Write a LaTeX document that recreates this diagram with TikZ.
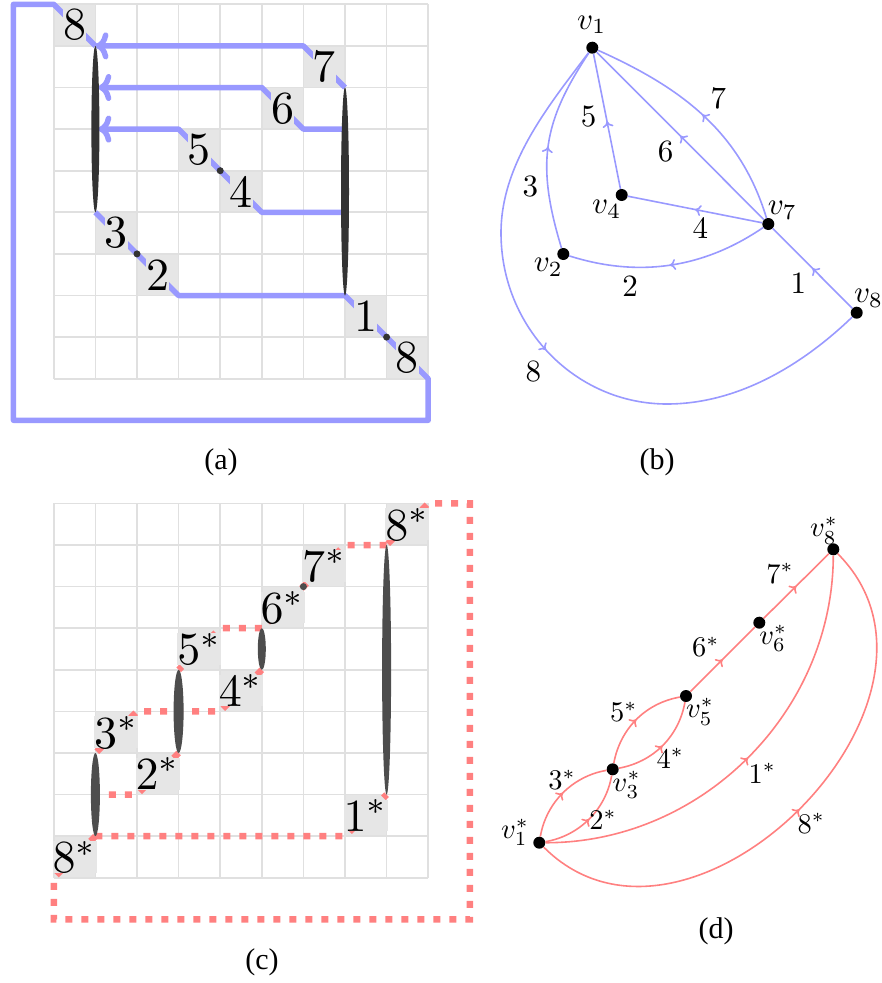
\documentclass[tikz,border=0pt]{standalone}
\usepackage{graphicx}
\usepackage{fontspec}
\newfontfamily\capfont{Liberation Serif}
\usetikzlibrary{arrows.meta,decorations.markings}
\definecolor{bl}{RGB}{153,153,255}
\definecolor{rd}{RGB}{255,128,128}
\definecolor{cellc}{RGB}{230,230,230}
\definecolor{gridc}{RGB}{224,224,224}
\definecolor{ella}{RGB}{51,51,51}
\definecolor{ellc}{RGB}{77,77,77}
\newcommand{\labA}[1]{\scalebox{4.6}{#1}}
\newcommand{\labB}[1]{\scalebox{3.1}{#1}}
\newcommand{\labD}[1]{\scalebox{2.85}{#1}}
\tikzset{
  gridl/.style={draw=gridc, line width=1.7pt},
  bpath/.style={draw=bl, line width=5.5pt, line join=round},
  barrow/.style={bpath, -{To[length=13pt,width=27pt]}},
  rpath/.style={draw=rd, line width=6.5pt, dash pattern=on 7pt off 9pt},
  biglab/.style={fill=cellc, inner sep=0pt},
  vtx/.style={circle, fill=black, inner sep=0pt, minimum size=12pt},
  glab/.style={inner sep=0pt},
  bedge/.style={draw=bl, line width=1.6pt},
  dedge/.style={draw=rd, line width=1.6pt},
  midarr/.style={postaction={decorate, decoration={markings, mark=at position #1 with {\arrow{To[length=6pt,width=11pt]}}}}},
  midarr/.default=0.5,
  captxt/.style={font=\capfont\fontsize{30}{30}\selectfont, inner sep=0pt},
}
\begin{document}
\begin{tikzpicture}[x=1pt,y=-1pt]
\useasboundingbox (0,0) rectangle (882,983);

% ---------------- panel (a)
\begin{scope}[shift={(53.8pt,-4.3pt)},x=41.6pt,y=-41.6pt]
  \foreach \c/\r in {0/0,6/1,5/2,3/3,4/4,1/5,2/6,7/7,8/8}
    \fill[cellc] (\c,\r) rectangle ++(1,1);
  \foreach \i in {0,...,9} {
    \draw[gridl] (\i,0) -- (\i,9);
    \draw[gridl] (0,\i) -- (9,\i);
  }
  \draw[bpath] (1,5) -- (2,6) -- (3,7) -- (7,7) -- (8,8) -- (9,9) -- (9,10) -- (-0.97,10) -- (-0.97,0) -- (0,0) -- (1,1);
  \draw[barrow] (7,2) -- (6,1) -- (1,1);
  \draw[barrow] (7,3) -- (6,3) -- (5,2) -- (1.07,2);
  \draw[barrow] (7,5) -- (5,5) -- (3,3) -- (1.07,3);
  \node[biglab] (la8t) at (0.5,0.5) {\labA{8}};
  \node[biglab] (la7) at (6.5,1.5) {\labA{7}};
  \node[biglab] (la6) at (5.5,2.5) {\labA{6}};
  \node[biglab] (la5) at (3.5,3.5) {\labA{5}};
  \node[biglab] (la4) at (4.5,4.5) {\labA{4}};
  \node[biglab] (la3) at (1.5,5.5) {\labA{3}};
  \node[biglab] (la2) at (2.5,6.5) {\labA{2}};
  \node[biglab] (la1) at (7.5,7.5) {\labA{1}};
  \node[biglab] (la8b) at (8.5,8.5) {\labA{8}};
  \fill[ella] (1,3) ellipse [x radius=4pt, y radius=83.2pt];
  \fill[ella] (7,4.5) ellipse [x radius=4pt, y radius=104pt];
  \fill[ella] (4,4) circle [radius=3.5pt];
  \fill[ella] (2,6) circle [radius=3.5pt];
  \fill[ella] (8,8) circle [radius=3.5pt];
\end{scope}

% ---------------- panel (c)
\begin{scope}[shift={(53.8pt,-503.4pt)},x=41.6pt,y=-41.6pt]
  \foreach \c/\r in {0/8,7/7,2/6,1/5,4/4,3/3,5/2,6/1,8/0}
    \fill[cellc] (\c,\r) rectangle ++(1,1);
  \foreach \i in {0,...,9} {
    \draw[gridl] (\i,0) -- (\i,9);
    \draw[gridl] (0,\i) -- (9,\i);
  }
  \draw[rpath] (1,8) -- (0,9) -- (0,10) -- (10,10) -- (10,0) -- (9,0) -- (8,1);
  \draw[rpath] (8,1) -- (7,1) -- (5,3);
  \draw[rpath] (1,8) -- (7,8) -- (8,7);
  \draw[rpath] (5,3) -- (4,3) -- (3,4);
  \draw[rpath] (5,4) -- (4,5) -- (2,5) -- (1,6);
  \draw[rpath] (3,6) -- (2,7) -- (1,7);
  \node[biglab] (lc8b) at (0.5,8.5) {\labA{$8^*$}};
  \node[biglab] (lc1) at (7.5,7.5) {\labA{$1^*$}};
  \node[biglab] (lc2) at (2.5,6.5) {\labA{$2^*$}};
  \node[biglab] (lc3) at (1.5,5.5) {\labA{$3^*$}};
  \node[biglab] (lc4) at (4.5,4.5) {\labA{$4^*$}};
  \node[biglab] (lc5) at (3.5,3.5) {\labA{$5^*$}};
  \node[biglab] (lc6) at (5.5,2.5) {\labA{$6^*$}};
  \node[biglab] (lc7) at (6.5,1.5) {\labA{$7^*$}};
  \node[biglab] (lc8t) at (8.5,0.5) {\labA{$8^*$}};
  \fill[ellc] (1,7) ellipse [x radius=4.5pt, y radius=41.6pt];
  \fill[ellc] (3,5) ellipse [x radius=5pt, y radius=41.6pt];
  \fill[ellc] (5,3.5) ellipse [x radius=4pt, y radius=20.8pt];
  \fill[ellc] (8,4) ellipse [x radius=4.5pt, y radius=124.8pt];
  \fill[ellc] (6,2) circle [radius=3.5pt];
\end{scope}

% ---------------- panel (b)
\node[vtx] (v1) at (592.3,47.7) {};
\node[vtx] (v4) at (621.7,195) {};
\node[vtx] (v7) at (768.3,224) {};
\node[vtx] (v2) at (563.3,254) {};
\node[vtx] (v8) at (856.7,312.7) {};
\coordinate (b8l) at (501,233);
\coordinate (b8b) at (667,404);

\draw[bedge, midarr] (v8) -- (v7);
\draw[bedge, midarr] (v7) .. controls (704,268) and (639,278) .. (v2);
\draw[bedge, midarr] (v2) .. controls (536,164) and (542.5,122.7) .. (v1);
\draw[bedge, midarr] (v7) -- (v4);
\draw[bedge, midarr] (v4) -- (v1);
\draw[bedge, midarr] (v7) -- (v1);
\draw[bedge, midarr] (v7) .. controls (739.5,129) and (677.5,86) .. (v1);
\draw[bedge, midarr=0.49] (v1) .. controls (550,104) and (501,163) .. (b8l)
   .. controls (501,327.4) and (575.3,404) .. (b8b)
   .. controls (747,404) and (813.5,354.4) .. (v8);

\node[glab] (tv1) at (591.7,25) {\labB{$v_1$}};
\node[glab] (tv4) at (606.7,209) {\labB{$v_4$}};
\node[glab] (tv7) at (782.3,210) {\labB{$v_7$}};
\node[glab] (tv2) at (548.3,267.3) {\labB{$v_2$}};
\node[glab] (tv8) at (868.5,298.3) {\labB{$v_8$}};
\node[glab] (te1) at (798.3,283.3) {\labB{1}};
\node[glab] (te2) at (630,286.3) {\labB{2}};
\node[glab] (te3) at (530.3,186.7) {\labB{3}};
\node[glab] (te4) at (700.3,227.7) {\labB{4}};
\node[glab] (te5) at (588.7,116.7) {\labB{5}};
\node[glab] (te6) at (665.7,151.7) {\labB{6}};
\node[glab] (te7) at (718.3,98.3) {\labB{7}};
\node[glab] (te8) at (533.3,371.7) {\labB{8}};

% ---------------- panel (d)
\node[vtx] (w1) at (539.3,842.7) {};
\node[vtx] (w3) at (612.7,769.3) {};
\node[vtx] (w5) at (686,696) {};
\node[vtx] (w6) at (759.3,622.7) {};
\node[vtx] (w8) at (833.3,549.3) {};

\draw[dedge, midarr] (w1) .. controls (546.1,802.6) and (572.6,776.1) .. (w3);
\draw[dedge, midarr] (w1) .. controls (579.4,835.9) and (605.9,809.4) .. (w3);
\draw[dedge, midarr] (w3) .. controls (620.1,728.6) and (645.6,703.1) .. (w5);
\draw[dedge, midarr] (w3) .. controls (653.4,761.9) and (678.9,736.4) .. (w5);
\draw[dedge, midarr] (w5) -- (w6);
\draw[dedge, midarr] (w6) -- (w8);
\draw[dedge, midarr] (w1) .. controls (701.8,843) and (833,711.8) .. (w8);
\draw[dedge, midarr] (w1) .. controls (688.6,992.6) and (982.6,698.6) .. (w8);

\node[glab] (tw1) at (515,832.3) {\labD{$v_1^*$}};
\node[glab] (tw3) at (626.7,785) {\labD{$v_3^*$}};
\node[glab] (tw5) at (700,711.7) {\labD{$v_5^*$}};
\node[glab] (tw6) at (773.3,638.3) {\labD{$v_6^*$}};
\node[glab] (tw8) at (824,530.7) {\labD{$v_8^*$}};
\node[glab] (tf7) at (780,573.3) {\labD{$7^*$}};
\node[glab] (tf6) at (705.7,647) {\labD{$6^*$}};
\node[glab] (tf5) at (623.7,711.7) {\labD{$5^*$}};
\node[glab] (tf4) at (670.3,758.3) {\labD{$4^*$}};
\node[glab] (tf3) at (562,780) {\labD{$3^*$}};
\node[glab] (tf2) at (603,820) {\labD{$2^*$}};
\node[glab] (tf1) at (762.3,773.3) {\labD{$1^*$}};
\node[glab] (tf8) at (811.3,823.3) {\labD{$8^*$}};

% ---------------- captions
\node[captxt] (capa) at (221,462) {(a)};
\node[captxt] (capb) at (657,462) {(b)};
\node[captxt] (capc) at (262,962) {(c)};
\node[captxt] (capd) at (716,931) {(d)};
\end{tikzpicture}
\end{document}
